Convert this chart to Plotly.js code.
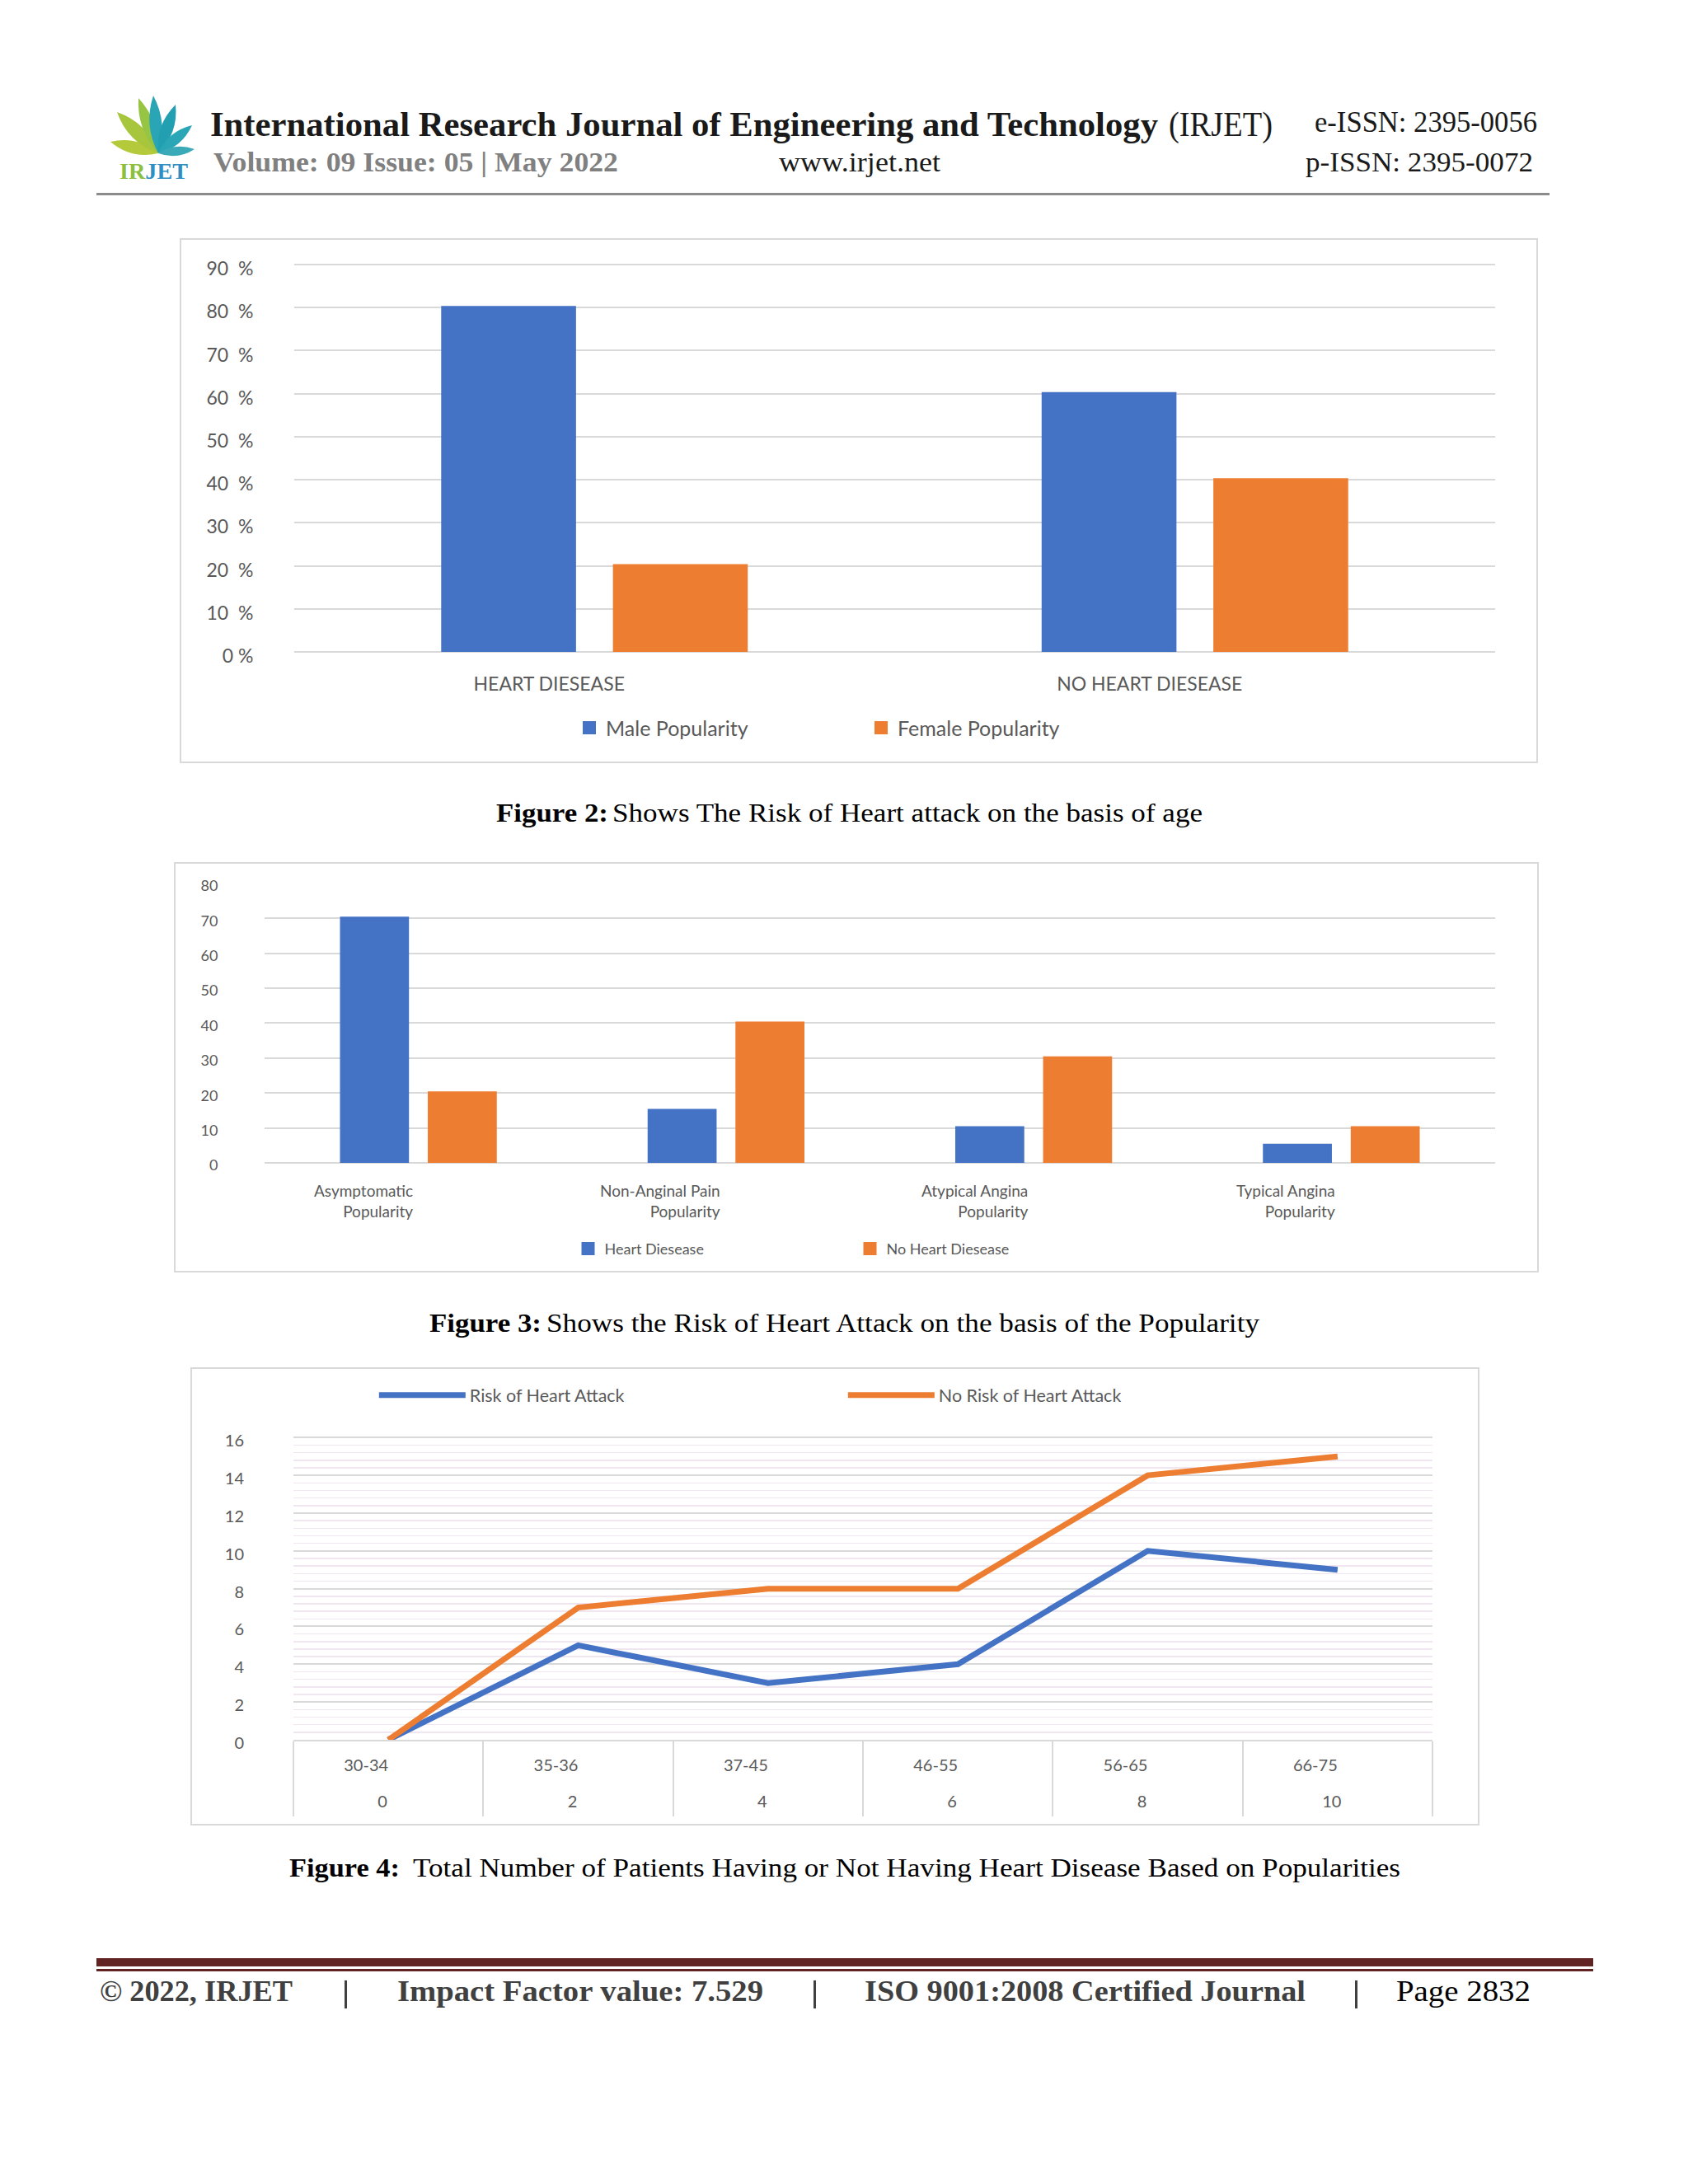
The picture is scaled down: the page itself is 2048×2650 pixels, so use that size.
<!DOCTYPE html>
<html><head><meta charset="utf-8">
<script src="https://cdn.plot.ly/plotly-3.0.1.min.js"></script>
<style>
html,body{margin:0;padding:0;background:#fff;}
body{width:2048px;height:2650px;position:relative;overflow:hidden;}
.chart{position:absolute;}
.frame{position:absolute;border:2px solid #d9d9d9;box-sizing:border-box;pointer-events:none;}
#page{position:absolute;left:0;top:0;}
.serif{font-family:"Liberation Serif","DejaVu Serif",serif;}
</style></head><body>
<svg id="page" width="2048" height="2650" xmlns="http://www.w3.org/2000/svg">
  <g id="logo"></g>
  <text x="145" y="217" class="serif" font-weight="bold" font-size="28" textLength="83" lengthAdjust="spacingAndGlyphs"><tspan fill="#8cbf3f">IR</tspan><tspan fill="#2f8fc4">JET</tspan></text>
  <text x="255" y="165" class="serif" font-weight="bold" font-size="42" fill="#1a1a1a" textLength="1150" lengthAdjust="spacingAndGlyphs">International Research Journal of Engineering and Technology</text>
  <text x="1418" y="165" class="serif" font-size="42" fill="#1a1a1a" textLength="126" lengthAdjust="spacingAndGlyphs">(IRJET)</text>
  <text x="1595" y="160" class="serif" font-size="36" fill="#1a1a1a" textLength="270" lengthAdjust="spacingAndGlyphs">e-ISSN: 2395-0056</text>
  <text x="259" y="208" class="serif" font-weight="bold" font-size="34" fill="#808080" textLength="491" lengthAdjust="spacingAndGlyphs">Volume: 09 Issue: 05 | May 2022</text>
  <text x="945" y="208" class="serif" font-size="34" fill="#1a1a1a" textLength="196" lengthAdjust="spacingAndGlyphs">www.irjet.net</text>
  <text x="1584" y="208" class="serif" font-size="34" fill="#1a1a1a" textLength="276" lengthAdjust="spacingAndGlyphs">p-ISSN: 2395-0072</text>
  <rect x="117" y="234" width="1763" height="3" fill="#8c8c8c"/>

  <text x="602" y="997" class="serif" font-weight="bold" font-size="31" fill="#000" textLength="136" lengthAdjust="spacingAndGlyphs">Figure 2:</text>
  <text x="743" y="997" class="serif" font-size="31" fill="#000" textLength="716" lengthAdjust="spacingAndGlyphs">Shows The Risk of Heart attack on the basis of age</text>

  <text x="521" y="1616" class="serif" font-weight="bold" font-size="31" fill="#000" textLength="136" lengthAdjust="spacingAndGlyphs">Figure 3:</text>
  <text x="663" y="1616" class="serif" font-size="31" fill="#000" textLength="865" lengthAdjust="spacingAndGlyphs">Shows the Risk of Heart Attack on the basis of the Popularity</text>

  <text x="351" y="2277" class="serif" font-weight="bold" font-size="31" fill="#000" textLength="134" lengthAdjust="spacingAndGlyphs">Figure 4:</text>
  <text x="501" y="2277" class="serif" font-size="31" fill="#000" textLength="1198" lengthAdjust="spacingAndGlyphs">Total Number of Patients Having or Not Having Heart Disease Based on Popularities</text>

  <rect x="117" y="2376" width="1816" height="10" fill="#622423"/>
  <rect x="117" y="2389" width="1816" height="3" fill="#622423"/>
  <text x="121" y="2428" class="serif" font-weight="bold" font-size="35" fill="#404040" textLength="234" lengthAdjust="spacingAndGlyphs">© 2022, IRJET</text>
  <rect x="418" y="2403" width="3" height="34" fill="#404040"/>
  <text x="482" y="2428" class="serif" font-weight="bold" font-size="35" fill="#404040" textLength="444" lengthAdjust="spacingAndGlyphs">Impact Factor value: 7.529</text>
  <rect x="987" y="2403" width="3" height="34" fill="#404040"/>
  <text x="1049" y="2428" class="serif" font-weight="bold" font-size="35" fill="#404040" textLength="535" lengthAdjust="spacingAndGlyphs">ISO 9001:2008 Certified Journal</text>
  <rect x="1644" y="2403" width="3" height="34" fill="#404040"/>
  <text x="1694" y="2428" class="serif" font-size="35" fill="#000" textLength="163" lengthAdjust="spacingAndGlyphs">Page 2832</text>
</svg>

<div id="c1" class="chart" style="left:218px;top:289px;width:1648px;height:637px"></div>
<div class="frame" style="left:218px;top:289px;width:1648px;height:637px"></div>
<div id="c2" class="chart" style="left:211px;top:1046px;width:1656px;height:498px"></div>
<div class="frame" style="left:211px;top:1046px;width:1656px;height:498px"></div>
<div id="c3" class="chart" style="left:231px;top:1659px;width:1564px;height:556px"></div>
<div class="frame" style="left:231px;top:1659px;width:1564px;height:556px"></div>

<script>
// ---------- Figure 2 data ----------
const fig2Categories = ['HEART DIESEASE', 'NO HEART DIESEASE'];
const fig2Male = [80, 60];
const fig2Female = [20, 40];
const fig2TickVals = [0, 10, 20, 30, 40, 50, 60, 70, 80, 90];
const fig2TickText = ['0 %', '10\u00a0\u00a0%', '20\u00a0\u00a0%', '30\u00a0\u00a0%', '40\u00a0\u00a0%',
                      '50\u00a0\u00a0%', '60\u00a0\u00a0%', '70\u00a0\u00a0%', '80\u00a0\u00a0%', '90\u00a0\u00a0%'];

// ---------- Figure 3 data ----------
const fig3LabelLines = [
  ['Asymptomatic', 'Popularity'],
  ['Non-Anginal Pain', 'Popularity'],
  ['Atypical Angina', 'Popularity'],
  ['Typical Angina', 'Popularity']
];
const fig3HeartDisease = [70, 15, 10, 5];
const fig3NoHeartDisease = [20, 40, 30, 10];
const fig3TickVals = [0, 10, 20, 30, 40, 50, 60, 70, 80];

// ---------- Figure 4 data ----------
const fig4AgeGroups = ['30-34', '35-36', '37-45', '46-55', '56-65', '66-75'];
const fig4SecondRow = ['0', '2', '4', '6', '8', '10'];
const fig4Risk = [0, 5, 3, 4, 10, 9];
const fig4NoRisk = [0, 7, 8, 8, 14, 15];

const BLUE = '#4472c4', ORANGE = '#ed7d31', GRID = '#d9d9d9', TXT = '#595959';
const FONT = 'Lato, "Open Sans", sans-serif';
const CONF = {displayModeBar: false, staticPlot: true};

// ---------- logo ----------
(function(){
  const g = document.getElementById('logo');
  const base = [192, 186];
  const leaves = [
    [134, 172, 15, '#b5ca3a'],
    [142, 136, 17, '#a8c63d'],
    [168, 119, 15, '#96c443'],
    [186, 116, 15, '#2aa5b5'],
    [213, 127, 15, '#22a0b1'],
    [233, 152, 13, '#2aa6b6'],
    [236, 181, 11, '#3aa9b8']
  ];
  leaves.forEach(([tx, ty, w, c]) => {
    const mx = (base[0] + tx) / 2, my = (base[1] + ty) / 2;
    const dx = tx - base[0], dy = ty - base[1];
    const len = Math.hypot(dx, dy);
    const nx = -dy / len * w, ny = dx / len * w;
    const p = document.createElementNS('http://www.w3.org/2000/svg', 'path');
    p.setAttribute('d', `M${base[0]},${base[1]} Q${mx+nx},${my+ny} ${tx},${ty} Q${mx-nx},${my-ny} ${base[0]},${base[1]} Z`);
    p.setAttribute('fill', c);
    g.appendChild(p);
  });
})();

// ---------- Figure 2 chart ----------
Plotly.newPlot('c1', [
  {type: 'bar', name: 'Male Popularity', x: fig2Categories, y: fig2Male,
   marker: {color: BLUE, line: {color: BLUE, width: 4}}},
  {type: 'bar', name: 'Female Popularity', x: fig2Categories, y: fig2Female,
   marker: {color: ORANGE, line: {color: ORANGE, width: 4}}}
], {
  width: 1648, height: 637,
  margin: {l: 139, r: 52, t: 31, b: 135},
  paper_bgcolor: '#ffffff', plot_bgcolor: '#ffffff',
  barmode: 'group', bargap: 0.428, bargroupgap: 0.234,
  font: {family: FONT, size: 23, color: TXT},
  xaxis: {type: 'category', ticks: 'outside', ticklen: 18, tickcolor: 'rgba(0,0,0,0)',
          ticklabelshift: -55, showgrid: false, showline: false, zeroline: false,
          tickfont: {size: 23, color: TXT}},
  yaxis: {range: [0, 90.2], tickmode: 'array', tickvals: fig2TickVals, ticktext: fig2TickText,
          showgrid: true, gridcolor: GRID, gridwidth: 2,
          zeroline: true, zerolinecolor: GRID, zerolinewidth: 2,
          ticks: 'outside', ticklen: 44, tickcolor: 'rgba(0,0,0,0)', showline: false,
          ticklabelshift: 5, tickfont: {size: 23, color: TXT}},
  showlegend: true,
  legend: {orientation: 'h', x: 0.232, xanchor: 'left', y: -0.196, yanchor: 'middle',
           entrywidth: 309, entrywidthmode: 'pixels', traceorder: 'normal',
           font: {size: 25, color: TXT}}
}, CONF);

// ---------- Figure 3 chart ----------
const fig3Categories = fig3LabelLines.map(l => l.join(' '));
Plotly.newPlot('c2', [
  {type: 'bar', name: 'Heart Diesease', x: fig3Categories, y: fig3HeartDisease,
   marker: {color: BLUE, line: {color: BLUE, width: 4}}},
  {type: 'bar', name: 'No Heart Diesease', x: fig3Categories, y: fig3NoHeartDisease,
   marker: {color: ORANGE, line: {color: ORANGE, width: 4}}}
], {
  width: 1656, height: 498,
  margin: {l: 110, r: 53, t: 25, b: 132},
  paper_bgcolor: '#ffffff', plot_bgcolor: '#ffffff',
  barmode: 'group', bargap: 0.429, bargroupgap: 0.252,
  font: {family: FONT, size: 18, color: TXT},
  xaxis: {type: 'category', showticklabels: false, ticks: '', showgrid: false, showline: false, zeroline: false},
  yaxis: {range: [0, 80.2], tickmode: 'array', tickvals: fig3TickVals,
          showgrid: true, gridcolor: GRID, gridwidth: 2,
          zeroline: true, zerolinecolor: GRID, zerolinewidth: 2,
          ticks: 'outside', ticklen: 52, tickcolor: 'rgba(0,0,0,0)', showline: false,
          ticklabelshift: 3, tickfont: {size: 18, color: TXT}},
  annotations: fig3LabelLines.map((lines, i) => ({
    x: fig3Categories[i], y: 0, xref: 'x', yref: 'y', text: lines.join('<br>'),
    showarrow: false, xanchor: 'right', yanchor: 'top', align: 'right',
    xshift: -5, yshift: -20, font: {size: 19, color: TXT, family: FONT}
  })),
  showlegend: true,
  legend: {orientation: 'h', x: 0.2495, xanchor: 'left', y: -0.303, yanchor: 'middle',
           entrywidth: 297, entrywidthmode: 'pixels', traceorder: 'normal',
           font: {size: 18, color: TXT}}
}, CONF);

// ---------- Figure 4 chart ----------
Plotly.newPlot('c3', [
  {type: 'scatter', mode: 'lines', name: 'Risk of Heart Attack', x: fig4AgeGroups, y: fig4Risk,
   line: {color: BLUE, width: 7}},
  {type: 'scatter', mode: 'lines', name: 'No Risk of Heart Attack', x: fig4AgeGroups, y: fig4NoRisk,
   line: {color: ORANGE, width: 7}},
  // carriers for the two rows of category labels (draw nothing)
  {type: 'scatter', mode: 'none', x: fig4AgeGroups, y: fig4Risk, xaxis: 'x2',
   showlegend: false, hoverinfo: 'skip'},
  {type: 'scatter', mode: 'none', x: fig4AgeGroups, y: fig4NoRisk, xaxis: 'x3',
   showlegend: false, hoverinfo: 'skip'}
], {
  width: 1564, height: 556,
  margin: {l: 125, r: 57, t: 83, b: 104},
  paper_bgcolor: '#ffffff', plot_bgcolor: '#ffffff',
  font: {family: FONT, size: 20, color: TXT},
  xaxis: {type: 'category', range: [-0.5, 5.5], tickson: 'boundaries', ticks: 'outside',
          ticklen: 91, tickwidth: 2, tickcolor: GRID, showticklabels: false,
          showgrid: false, showline: true, linecolor: GRID, linewidth: 2, zeroline: false},
  xaxis2: {overlaying: 'x', anchor: 'y', side: 'bottom', type: 'category', range: [-0.5, 5.5],
           ticks: '', showgrid: false, zeroline: false, showline: false,
           ticklabelstandoff: 17, ticklabelshift: -27, tickfont: {size: 20, color: TXT}},
  xaxis3: {overlaying: 'x', anchor: 'y', side: 'bottom', type: 'category', range: [-0.5, 5.5],
           tickmode: 'array', tickvals: fig4AgeGroups, ticktext: fig4SecondRow, ticks: '',
           showgrid: false, zeroline: false, showline: false,
           ticklabelstandoff: 61, ticklabelshift: -7, tickfont: {size: 20, color: TXT}},
  yaxis: {range: [0, 16.1], tick0: 0, dtick: 2,
          showgrid: true, gridcolor: GRID, gridwidth: 2,
          minor: {dtick: 0.4, tick0: 0, showgrid: true, gridcolor: '#efe6ef', gridwidth: 1.5},
          zeroline: true, zerolinecolor: GRID, zerolinewidth: 2,
          ticks: 'outside', ticklen: 55, tickcolor: 'rgba(0,0,0,0)', showline: false,
          ticklabelshift: 4, tickfont: {size: 20, color: TXT}},
  showlegend: true,
  legend: {orientation: 'h', x: 0.0715, xanchor: 'left', y: 1.1335, yanchor: 'middle',
           itemwidth: 105, entrywidth: 449, entrywidthmode: 'pixels', traceorder: 'normal',
           font: {size: 21.5, color: TXT}}
}, CONF);
</script>
</body></html>
